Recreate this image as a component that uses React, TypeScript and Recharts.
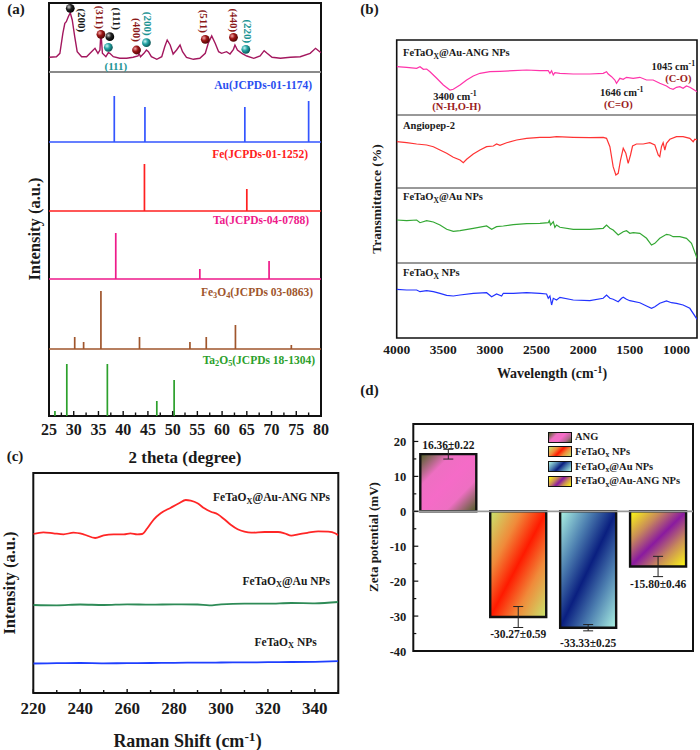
import React from 'react';
import {
  BarChart,
  Bar,
  Cell,
  ErrorBar,
  LabelList,
  ComposedChart,
  Line,
  Scatter,
  XAxis,
  YAxis,
  ReferenceLine,
  ReferenceArea,
} from 'recharts';

const SERIF = '"Liberation Serif", "Times New Roman", serif';

// ---------- (a) XRD ----------
const xrdTheta = [
  25.1, 26.5, 27.2, 27.8, 28.2, 28.5, 28.9, 29.3, 29.7, 30.2, 30.7, 31.6, 32.6, 33.6, 34.3, 34.9,
  35.3, 35.5, 35.8, 36.5, 37.0, 37.3, 38.0, 39.3, 40.7, 42.0, 43.0, 43.2, 43.5, 44.2, 44.7, 45.1,
  45.7, 46.8, 47.8, 48.4, 48.9, 49.5, 50.1, 50.8, 51.5, 52.0, 52.8, 54.2, 55.5, 56.6, 57.2, 57.9,
  58.6, 59.3, 59.9, 60.9, 61.6, 62.3, 62.6, 63.1, 64.0, 65.0, 66.4, 67.7, 68.5, 69.1, 70.1, 71.8,
  73.8, 75.8, 77.8, 78.9, 79.5, 80.0,
];
const xrdCounts = [
  14.7, 15.3, 18.7, 38.7, 48.7, 50.3, 55.3, 59.3, 52, 35.3, 20.3, 15.3, 15.3, 20.3, 23.7, 18.7,
  22, 40.3, 18.7, 15.3, 19.3, 18.7, 15.3, 13.7, 13.7, 14.7, 16, 18.7, 15.3, 18.7, 22, 20.3,
  15.3, 12.7, 15.3, 25.3, 32, 27, 18, 22, 27, 20.3, 14.7, 12.7, 13.7, 18.7, 28.7, 36,
  28.7, 20.3, 18.7, 20.3, 18, 22.7, 27, 22, 18.7, 16, 13.7, 16, 21.3, 18.7, 14.7, 13.7,
  14.7, 15.3, 18.7, 23.7, 21.3, 19.3,
];

// indexed reflections on the sample pattern
const peakTheta = [29.3, 35.5, 37.3, 37.0, 42.7, 44.7, 56.6, 62.3, 64.8];
const peakLevel = [63.7, 37.7, 35.3, 24.7, 22, 29.3, 32.7, 34.7, 22.7];
const peakHkl = ['(200)', '(311)', '(111)', '(111)', '(400)', '(200)', '(511)', '(440)', '(220)'];
const peakPhase = ['Ta', 'Fe3O4', 'Ta', 'Au', 'Fe3O4', 'Au', 'Fe3O4', 'Fe3O4', 'Au'];

// reference cards (stick patterns)
const auTheta = [38.2, 44.4, 64.6, 77.5];
const auInt = [46, 35, 35, 41];
const feTheta = [44.3, 65.0];
const feInt = [47, 22];
const taTheta = [38.5, 55.5, 69.5];
const taInt = [46, 10, 18];
const fe3o4Theta = [30.2, 32.0, 35.5, 43.3, 53.5, 56.8, 62.7, 74.0];
const fe3o4Int = [12, 7, 58, 12, 7, 12, 24, 4];
const ta2o5Theta = [26.2, 28.6, 36.8, 46.8, 50.3];
const ta2o5Int = [5, 52, 52, 15, 36];

const xrdTicks = [
  25, 27.5, 30, 32.5, 35, 37.5, 40, 42.5, 45, 47.5, 50, 52.5, 55, 57.5, 60, 62.5, 65, 67.5, 70,
  72.5, 75, 77.5, 80,
];

// ---------- (b) FTIR ----------
const ftirAngAuWn = [
  4000, 3893, 3786, 3750, 3714, 3679, 3643, 3571, 3500, 3429, 3393, 3321, 3250, 3179, 3107, 3000,
  2893, 2750, 2607, 2464, 2375, 2357, 2339, 2321, 2304, 2250, 2107, 1929, 1786, 1750, 1732, 1696,
  1661, 1643, 1607, 1571, 1536, 1464, 1393, 1321, 1250, 1179, 1107, 1071, 1036, 1000, 964, 929,
  893, 857, 821, 779,
];
const ftirAngAuT = [
  48.3, 47.7, 46.7, 48.3, 45.7, 46, 43.3, 36.7, 30, 25, 25.7, 30, 35, 39, 41.7, 43.3,
  43.7, 44.3, 45, 44.3, 44.3, 41.7, 44.3, 40, 42.3, 41.7, 41, 41, 41.7, 43.3, 41, 38.3,
  35, 31.7, 36.7, 35.7, 37.7, 36.7, 37.7, 35, 35, 31.7, 29, 26.7, 25.7, 27.7, 28.3, 26.7,
  29, 27.7, 25.7, 23.3,
];
const ftirAngWn = [
  4000, 3893, 3786, 3679, 3607, 3536, 3464, 3393, 3321, 3286, 3250, 3179, 3107, 3036, 2964, 2929,
  2893, 2821, 2714, 2607, 2464, 2357, 2286, 2107, 1929, 1786, 1750, 1714, 1679, 1650, 1625, 1600,
  1571, 1543, 1518, 1493, 1471, 1429, 1357, 1286, 1232, 1196, 1179, 1161, 1143, 1125, 1107, 1071,
  1000, 929, 857, 821, 804, 779,
];
const ftirAngT = [
  46.3, 45.3, 44, 43, 41.3, 38, 34.7, 30.7, 28, 25.3, 28.7, 34, 38, 41.3, 42, 44,
  42.7, 45.3, 48, 49.7, 50.7, 50.7, 51.3, 50.7, 50.3, 50.7, 49.7, 41.3, 21.3, 13, 14.7, 28,
  39.7, 34.7, 24.7, 33, 42, 44, 44, 45.3, 43, 33, 31.3, 41.3, 45.3, 38, 44.7, 48.7,
  51.3, 51.3, 49.7, 46.3, 48.7, 48,
];
const ftirAuWn = [
  4000, 3893, 3786, 3750, 3679, 3607, 3536, 3464, 3393, 3321, 3179, 3036, 2982, 2929, 2857, 2750,
  2607, 2464, 2375, 2364, 2350, 2321, 2304, 2286, 2250, 2107, 1929, 1786, 1750, 1714, 1679, 1625,
  1571, 1536, 1500, 1464, 1393, 1321, 1268, 1232, 1179, 1107, 1071, 1036, 964, 893, 839, 779,
];
const ftirAuT = [
  43, 42.3, 43, 40.3, 42.3, 41, 38, 33.7, 31.7, 32.3, 34.7, 37, 33.7, 36.3, 37, 38.3,
  39.3, 39.7, 40.3, 42.3, 38, 41.3, 35.7, 38, 35.7, 33.7, 33.7, 34.7, 38, 34.7, 33, 28,
  31.3, 32.3, 29.7, 30.3, 29.7, 24.7, 18, 19.7, 24.7, 28.7, 28, 26.3, 26.3, 24.7, 19.7, 4.7,
];
const ftirBareWn = [
  4000, 3893, 3786, 3750, 3679, 3607, 3536, 3464, 3393, 3321, 3179, 3036, 2982, 2929, 2875, 2857,
  2750, 2607, 2464, 2393, 2375, 2357, 2339, 2321, 2286, 2250, 2107, 1929, 1786, 1750, 1714, 1679,
  1625, 1589, 1571, 1536, 1500, 1393, 1321, 1268, 1232, 1179, 1107, 1054, 1000, 929, 857, 779,
];
const ftirBareT = [
  48.7, 48, 48, 46.3, 47.3, 46.3, 44.7, 42.7, 42, 43, 44.7, 45.3, 41.3, 44, 42, 44.7,
  44.7, 45.3, 44.7, 44, 39.7, 42, 33, 39.7, 38, 40.7, 38, 37.3, 39.7, 43, 39.7, 38.7,
  36.3, 39.7, 40.7, 38.7, 37.3, 35.3, 32, 29.7, 31.3, 34.7, 37, 35.3, 34.7, 33, 29.7, 18.7,
];
const ftirTicks = [4000, 3500, 3000, 2500, 2000, 1500, 1000];

// ---------- (c) Raman ----------
const ramanShiftAng = [
  220, 224.3, 228.6, 232.9, 237.1, 241.4, 246.4, 250, 254.3, 258.6, 261.4, 264.3, 266.4, 268.6,
  271.4, 274.3, 278.6, 282.1, 285, 287.1, 290, 292.9, 295.7, 298.6, 301.4, 304.3, 307.1, 310,
  312.9, 318.6, 324.3, 327.1, 330, 332.9, 337.1, 341.4, 345.7, 348.6, 350,
];
const ramanAng = [
  159, 160.7, 159.7, 158.7, 160.3, 158.7, 155, 157.7, 158.7, 158.7, 159.7, 158.7, 159, 164.7,
  173.7, 179.7, 185.3, 189.7, 193, 192.3, 189.7, 184.7, 181.3, 178.7, 173.7, 168, 163.7, 161.3,
  160.3, 161, 161, 159.7, 157.3, 158.7, 160.3, 161.7, 161.3, 159.7, 157.7,
];
const ramanShift = [220, 230, 240, 250, 260, 270, 280, 290, 295, 300, 310, 320, 330, 340, 350];
const ramanAu = [88, 87.7, 88.5, 88, 88.7, 88.3, 88.7, 88.5, 87.7, 88.7, 89.3, 89.3, 90, 89.7, 91];
const ramanBare = [29.5, 29.8, 30, 29.7, 29.8, 30, 30.2, 30.3, 30.3, 30.5, 30.6, 30.8, 31, 31.2, 31.8];
const ramanTicks = [220, 230, 240, 250, 260, 270, 280, 290, 300, 310, 320, 330, 340, 350];

// ---------- (d) zeta potential ----------
const zetaGroups = ['ANG', 'FeTaOx NPs', 'FeTaOx@Au NPs', 'FeTaOx@Au-ANG NPs'];
const zetaValue = [16.36, -30.27, -33.33, -15.8];
const zetaSem = [0.22, 0.59, 0.25, 0.46];
const zetaSpread = [1.4, 3.0, 0.9, 2.9];
const zetaTicks = [-40, -35, -30, -25, -20, -15, -10, -5, 0, 5, 10, 15, 20];

// ---------- layout / styling ----------
// strip baselines of the stacked XRD plot (a.u.)
const STRIP = { ta2o5: 0, fe3o4: 67, ta: 137, fe: 205, au: 274, sample: 344, top: 413 };
// strip baselines of the stacked FTIR plot
const FTIR_BASE = { bare: 0, au: 75, ang: 150, angAu: 223, top: 298 };
// px per mV in the zeta panel (plot height / domain span)
const ZETA_PX = 227 / 65;

const phaseTone: Record<string, { text: string; light: string; mid: string; dark: string }> = {
  Ta: { text: '#1a1a1a', light: '#c8c8c8', mid: '#222', dark: '#000' },
  Fe3O4: { text: '#8b1a1a', light: '#f3a5a5', mid: '#9b1515', dark: '#4a0505' },
  Au: { text: '#1c9494', light: '#cdf4f4', mid: '#22a3a3', dark: '#0b5050' },
};
const peakNudge = [
  { dx: 12, dy: 12, rot: 90 },
  { dx: -1, dy: -17, rot: 90 },
  { dx: 7, dy: -18, rot: 90 },
  { dx: 7.5, dy: 19, rot: 0 },
  { dx: 0, dy: -20, rot: 90 },
  { dx: 2, dy: -19, rot: 90 },
  { dx: -1, dy: -18, rot: 90 },
  { dx: 1, dy: -17, rot: 90 },
  { dx: 2, dy: -18, rot: 90 },
];

const zetaFill = [
  ['#4a5f22', '#ee6fc2', '#f56bc7', '#ee6fc2', '#4a5f22'],
  ['#c8e66e', '#f08a3a', '#ff1a00', '#f08a3a', '#c8e66e'],
  ['#aef5e4', '#4d7fb0', '#0a1f80', '#4d7fb0', '#aef5e4'],
  ['#ffff10', '#c88a5a', '#8a1aa0', '#c88a5a', '#ffff10'],
];
const stopAt = [0, 0.28, 0.5, 0.72, 1];

type Pt = { x: number; y: number | null };

// vertical sticks standing on a strip baseline
function stickTrace(theta: number[], height: number[], base: number, withBase: boolean): Pt[] {
  const pts: Pt[] = [];
  if (withBase) pts.push({ x: 25, y: base });
  theta.forEach((t, i) => {
    pts.push({ x: t, y: base }, { x: t, y: base + height[i] });
    pts.push(withBase ? { x: t, y: base } : { x: t, y: null });
  });
  if (withBase) pts.push({ x: 80, y: base });
  return pts;
}

const zip = (xs: number[], ys: number[], shift = 0): Pt[] => xs.map((x, i) => ({ x, y: ys[i] + shift }));

const stickSets = [
  { key: 'au', pts: stickTrace(auTheta, auInt, STRIP.au, true), color: '#3355ff' },
  { key: 'fe', pts: stickTrace(feTheta, feInt, STRIP.fe, true), color: '#ff2020' },
  { key: 'ta', pts: stickTrace(taTheta, taInt, STRIP.ta, true), color: '#ee1a8a' },
  { key: 'fe3o4', pts: stickTrace(fe3o4Theta, fe3o4Int, STRIP.fe3o4, true), color: '#a0562d' },
  { key: 'ta2o5', pts: stickTrace(ta2o5Theta, ta2o5Int, STRIP.ta2o5, false), color: '#2ca02c' },
];
const xrdRows = zip(xrdTheta, xrdCounts, STRIP.sample);
const peakRows = peakTheta.map((x, i) => ({
  x,
  y: STRIP.sample + peakLevel[i],
  hkl: peakHkl[i],
  phase: peakPhase[i],
  i,
}));

const zetaRows = zetaGroups.map((name, i) => ({ name, zeta: zetaValue[i], spread: zetaSpread[i] }));

// ticks drawn inward from the bottom axis, labels on every `every`
function InTick(props: any) {
  const { x, y, payload, every, fontPx, labelGap, majorLen, minorLen } = props;
  const v = Number(payload.value);
  const r = v / every;
  const major = Math.abs(r - Math.round(r)) < 1e-6;
  const len = major ? majorLen : minorLen;
  return (
    <g>
      {len > 0 && <line x1={x} x2={x} y1={y} y2={y - len} stroke="#111" strokeWidth={1.4} />}
      {major && (
        <text
          x={x}
          y={y + labelGap}
          textAnchor="middle"
          fontFamily={SERIF}
          fontWeight={700}
          fontSize={fontPx}
          fill="#1a1a1a"
        >
          {v}
        </text>
      )}
    </g>
  );
}

function ZetaTick(props: any) {
  const { x, y, payload } = props;
  const v = Number(payload.value);
  const major = v % 10 === 0;
  return (
    <g>
      <line x1={x} x2={x + (major ? 5 : 3)} y1={y} y2={y} stroke="#111" strokeWidth={1.2} />
      {major && (
        <text x={x - 7} y={y + 4.5} textAnchor="end" fontFamily={SERIF} fontWeight={700} fontSize={12.5} fill="#1a1a1a">
          {v}
        </text>
      )}
    </g>
  );
}

function PeakMarker(props: any) {
  const { cx, cy, payload } = props;
  if (cx == null || cy == null || !payload) return null;
  const tone = phaseTone[payload.phase];
  const n = peakNudge[payload.i];
  const tx = cx + n.dx;
  const ty = cy + n.dy;
  return (
    <g>
      <circle cx={cx} cy={cy} r={4.4} fill={`url(#ball-${payload.phase})`} />
      <text
        x={tx}
        y={ty}
        textAnchor="middle"
        dominantBaseline="central"
        transform={n.rot ? `rotate(${n.rot} ${tx} ${ty})` : undefined}
        fontFamily={SERIF}
        fontWeight={700}
        fontSize={11}
        fill={tone.text}
      >
        {payload.hkl}
      </text>
    </g>
  );
}

function ZetaValueLabel(props: any) {
  const { x, y, width, height, value } = props;
  const i = zetaValue.indexOf(Number(value));
  if (i < 0) return null;
  const top = Math.min(y, y + height);
  const bottom = Math.max(y, y + height);
  const below = Math.max(15, zetaSpread[i] * ZETA_PX + 7);
  const cy = zetaValue[i] >= 0 ? top - 9 : bottom + below;
  return (
    <text
      x={x + width / 2}
      y={cy + 4}
      textAnchor="middle"
      fontFamily={SERIF}
      fontWeight={700}
      fontSize={11.5}
      fill="#1a1a1a"
    >
      {`${zetaValue[i].toFixed(2)}±${zetaSem[i].toFixed(2)}`}
    </text>
  );
}

type TagProps = {
  x: number;
  y: number;
  size: number;
  color?: string;
  align?: 'left' | 'center' | 'right';
  rotate?: number;
  children: React.ReactNode;
};
function Tag({ x, y, size, color = '#1a1a1a', align = 'center', rotate, children }: TagProps) {
  const shift = align === 'left' ? '0%' : align === 'right' ? '-100%' : '-50%';
  return (
    <div
      style={{
        position: 'absolute',
        left: x,
        top: y,
        transform: `translate(${shift}, -50%)` + (rotate ? ` rotate(${rotate}deg)` : ''),
        fontFamily: SERIF,
        fontWeight: 700,
        fontSize: size,
        color,
        lineHeight: 1,
        whiteSpace: 'nowrap',
      }}
    >
      {children}
    </div>
  );
}
const Sub = ({ children }: { children: React.ReactNode }) => (
  <span style={{ fontSize: '0.72em', position: 'relative', top: '0.3em' }}>{children}</span>
);
const Sup = ({ children }: { children: React.ReactNode }) => (
  <span style={{ fontSize: '0.75em', position: 'relative', top: '-0.45em' }}>{children}</span>
);

function XrdPanel() {
  return (
    <ComposedChart width={340} height={470} margin={{ top: 3, right: 19, bottom: 24, left: 49 }}>
      <defs>
        {Object.keys(phaseTone).map((p) => (
          <radialGradient key={p} id={`ball-${p}`} cx="0.35" cy="0.35" r="0.7">
            <stop offset="0" stopColor={phaseTone[p].light} />
            <stop offset="0.45" stopColor={phaseTone[p].mid} />
            <stop offset="1" stopColor={phaseTone[p].dark} />
          </radialGradient>
        ))}
      </defs>
      <XAxis
        type="number"
        dataKey="x"
        domain={[25, 80]}
        ticks={xrdTicks}
        interval={0}
        height={30}
        tickSize={0}
        tickMargin={0}
        tickLine={false}
        axisLine={false}
        allowDataOverflow
        tick={<InTick every={5} fontPx={16} labelGap={19} majorLen={5} minorLen={3.5} />}
      />
      <YAxis type="number" dataKey="y" domain={[0, STRIP.top]} hide allowDataOverflow />
      <ReferenceLine y={STRIP.sample} stroke="#8a8a8a" strokeWidth={2} />
      {stickSets.map((s) => (
        <Line
          key={s.key}
          data={s.pts}
          dataKey="y"
          type="linear"
          stroke={s.color}
          strokeWidth={1.7}
          dot={false}
          activeDot={false}
          connectNulls={false}
          isAnimationActive={false}
        />
      ))}
      <Line
        data={xrdRows}
        dataKey="y"
        type="linear"
        stroke="#a3175e"
        strokeWidth={1.4}
        dot={false}
        activeDot={false}
        isAnimationActive={false}
      />
      <Scatter data={peakRows} dataKey="y" shape={(p: any) => <PeakMarker {...p} />} isAnimationActive={false} />
      <ReferenceArea x1={25} x2={80} y1={0} y2={STRIP.top} fill="none" stroke="#111" strokeWidth={2} />
    </ComposedChart>
  );
}

function FtirPanel() {
  const traces = [
    { key: 'angAu', pts: zip(ftirAngAuWn, ftirAngAuT, FTIR_BASE.angAu), color: '#ff33aa' },
    { key: 'ang', pts: zip(ftirAngWn, ftirAngT, FTIR_BASE.ang), color: '#ff3333' },
    { key: 'au', pts: zip(ftirAuWn, ftirAuT, FTIR_BASE.au), color: '#34a834' },
    { key: 'bare', pts: zip(ftirBareWn, ftirBareT, FTIR_BASE.bare), color: '#2233ff' },
  ];
  return (
    <ComposedChart width={360} height={400} margin={{ top: 40, right: 3, bottom: 32, left: 56.7 }}>
      <XAxis
        type="number"
        dataKey="x"
        domain={[780, 4000]}
        reversed
        ticks={ftirTicks}
        interval={0}
        height={30}
        tickSize={0}
        tickMargin={0}
        tickLine={false}
        axisLine={false}
        allowDataOverflow
        tick={<InTick every={500} fontPx={13.5} labelGap={15.5} majorLen={0} minorLen={0} />}
      />
      <YAxis type="number" dataKey="y" domain={[0, FTIR_BASE.top]} hide allowDataOverflow />
      {[FTIR_BASE.au, FTIR_BASE.ang, FTIR_BASE.angAu].map((b) => (
        <ReferenceLine key={b} y={b} stroke="#333" strokeWidth={1} />
      ))}
      {traces.map((t) => (
        <Line
          key={t.key}
          data={t.pts}
          dataKey="y"
          type="linear"
          stroke={t.color}
          strokeWidth={1.2}
          dot={false}
          activeDot={false}
          isAnimationActive={false}
        />
      ))}
      <ReferenceArea x1={780} x2={4000} y1={0} y2={FTIR_BASE.top} fill="none" stroke="#111" strokeWidth={1.6} />
    </ComposedChart>
  );
}

function RamanPanel() {
  const traces = [
    { key: 'ang', pts: zip(ramanShiftAng, ramanAng), color: '#ff2626' },
    { key: 'au', pts: zip(ramanShift, ramanAu), color: '#2e8b57' },
    { key: 'bare', pts: zip(ramanShift, ramanBare), color: '#1f3fff' },
  ];
  return (
    <ComposedChart width={350} height={310} margin={{ top: 33, right: 11.7, bottom: 27, left: 33.3 }}>
      <XAxis
        type="number"
        dataKey="x"
        domain={[220, 350]}
        ticks={ramanTicks}
        interval={0}
        height={30}
        tickSize={0}
        tickMargin={0}
        tickLine={false}
        axisLine={false}
        allowDataOverflow
        tick={<InTick every={20} fontPx={17} labelGap={20.5} majorLen={4} minorLen={3} />}
      />
      <YAxis type="number" dataKey="y" domain={[0, 220]} hide allowDataOverflow />
      {traces.map((t) => (
        <Line
          key={t.key}
          data={t.pts}
          dataKey="y"
          type="monotone"
          stroke={t.color}
          strokeWidth={1.8}
          dot={false}
          activeDot={false}
          isAnimationActive={false}
        />
      ))}
      <ReferenceArea x1={220} x2={350} y1={0} y2={220} fill="none" stroke="#111" strokeWidth={2} />
    </ComposedChart>
  );
}

function ZetaPanel() {
  return (
    <BarChart width={350} height={250} data={zetaRows} margin={{ top: 4, right: 7, bottom: 19, left: 23.3 }}>
      <defs>
        {zetaFill.map((cols, i) => (
          <linearGradient key={i} id={`zeta-${i}`} x1="0" y1="0" x2="1" y2="1">
            {cols.map((c, k) => (
              <stop key={k} offset={stopAt[k]} stopColor={c} />
            ))}
          </linearGradient>
        ))}
      </defs>
      <XAxis dataKey="name" hide />
      <YAxis
        type="number"
        domain={[-40, 25]}
        ticks={zetaTicks}
        interval={0}
        width={40}
        tickSize={0}
        tickMargin={0}
        tickLine={false}
        axisLine={false}
        allowDataOverflow
        tick={<ZetaTick />}
      />
      <ReferenceLine y={0} stroke="#9a9a9a" strokeWidth={1.8} />
      <Bar dataKey="zeta" barSize={56} stroke="#111" strokeWidth={2.4} isAnimationActive={false}>
        {zetaRows.map((r, i) => (
          <Cell key={r.name} fill={`url(#zeta-${i})`} />
        ))}
        <ErrorBar dataKey="spread" width={5} stroke="#222" strokeWidth={1} />
        <LabelList dataKey="zeta" content={(p: any) => <ZetaValueLabel {...p} />} />
      </Bar>
      <ReferenceArea y1={-40} y2={25} fill="none" stroke="#111" strokeWidth={2} />
    </BarChart>
  );
}

const legendSwatch = [
  'linear-gradient(135deg, #4a5f22 0%, #ee6fc2 30%, #f56bc7 55%, #b0688e 80%, #4a5f22 100%)',
  'linear-gradient(135deg, #c8e66e 0%, #f08a3a 30%, #ff1a00 50%, #f08a3a 70%, #c8e66e 100%)',
  'linear-gradient(135deg, #aef5e4 0%, #4d7fb0 30%, #0a1f80 50%, #4d7fb0 70%, #aef5e4 100%)',
  'linear-gradient(135deg, #ffff10 0%, #c88a5a 30%, #8a1aa0 50%, #c88a5a 70%, #ffff10 100%)',
];
const legendText: React.ReactNode[] = [
  'ANG',
  <>FeTaO<Sub>x</Sub> NPs</>,
  <>FeTaO<Sub>x</Sub>@Au NPs</>,
  <>FeTaO<Sub>x</Sub>@Au-ANG NPs</>,
];

export default function App() {
  const dark = '#9b1c1c';
  return (
    <div
      style={{
        position: 'absolute',
        left: 0,
        top: 0,
        width: 700,
        height: 750,
        background: '#fff',
        overflow: 'hidden',
      }}
    >
      <div style={{ position: 'absolute', left: 0, top: 0 }}>
        <XrdPanel />
      </div>
      <div style={{ position: 'absolute', left: 340, top: 0 }}>
        <FtirPanel />
      </div>
      <div style={{ position: 'absolute', left: 0, top: 440 }}>
        <RamanPanel />
      </div>
      <div style={{ position: 'absolute', left: 350, top: 420 }}>
        <ZetaPanel />
      </div>

      {/* panel letters */}
      <Tag x={16} y={8.5} size={15}>(a)</Tag>
      <Tag x={369.5} y={8.5} size={15}>(b)</Tag>
      <Tag x={15} y={456} size={15}>(c)</Tag>
      <Tag x={369.5} y={390} size={15}>(d)</Tag>

      {/* (a) */}
      <Tag x={35} y={229} size={16.5} rotate={-90}>Intensity (a.u.)</Tag>
      <Tag x={185} y={457} size={17}>2 theta (degree)</Tag>
      <Tag x={312} y={86} size={11.5} align="right" color="#2a4ff0">Au(JCPDs-01-1174)</Tag>
      <Tag x={308} y={155} size={11.5} align="right" color="#ff2020">Fe(JCPDs-01-1252)</Tag>
      <Tag x={309} y={221} size={11.5} align="right" color="#ee1a8a">Ta(JCPDs-04-0788)</Tag>
      <Tag x={313} y={293} size={11.5} align="right" color="#a0562d">
        Fe<Sub>3</Sub>O<Sub>4</Sub>(JCPDs 03-0863)
      </Tag>
      <Tag x={315} y={360.5} size={11.5} align="right" color="#2ca02c">
        Ta<Sub>2</Sub>O<Sub>5</Sub>(JCPDs 18-1304)
      </Tag>

      {/* (b) */}
      <Tag x={377} y={199} size={13.5} rotate={-90}>Transmittance (%)</Tag>
      <Tag x={552} y={374} size={14}>
        Wavelength (cm<Sup>-1</Sup>)
      </Tag>
      <Tag x={403} y={53.3} size={10.5} align="left">
        FeTaO<Sub>X</Sub>@Au-ANG NPs
      </Tag>
      <Tag x={403} y={126} size={10.5} align="left">Angiopep-2</Tag>
      <Tag x={403} y={197.3} size={10.5} align="left">
        FeTaO<Sub>X</Sub>@Au NPs
      </Tag>
      <Tag x={403} y={273.3} size={10.5} align="left">
        FeTaO<Sub>X</Sub> NPs
      </Tag>
      <Tag x={455} y={96.7} size={10.5}>
        3400 cm<Sup>-1</Sup>
      </Tag>
      <Tag x={456.7} y={106.7} size={10.5} color={dark}>(N-H,O-H)</Tag>
      <Tag x={621.7} y={92.7} size={10.5}>
        1646 cm<Sup>-1</Sup>
      </Tag>
      <Tag x={618.3} y={105} size={10.5} color={dark}>(C=O)</Tag>
      <Tag x={673.3} y={66.7} size={10.5}>
        1045 cm<Sup>-1</Sup>
      </Tag>
      <Tag x={678.3} y={79.3} size={10.5} color={dark}>(C-O)</Tag>

      {/* (c) */}
      <Tag x={10} y={583} size={16.5} rotate={-90}>Intensity (a.u.)</Tag>
      <Tag x={187.5} y={741} size={18}>
        Raman Shift (cm<Sup>-1</Sup>)
      </Tag>
      <Tag x={330} y={498.3} size={11.5} align="right">
        FeTaO<Sub>X</Sub>@Au-ANG NPs
      </Tag>
      <Tag x={330} y={581.7} size={11.5} align="right">
        FeTaO<Sub>X</Sub>@Au NPs
      </Tag>
      <Tag x={316.7} y={642.7} size={11.5} align="right">
        FeTaO<Sub>X</Sub> NPs
      </Tag>

      {/* (d) */}
      <Tag x={373.3} y={537} size={13} rotate={-90}>Zeta potential (mV)</Tag>
      {legendSwatch.map((bg, i) => {
        const cy = 437 + i * 14.8;
        return (
          <React.Fragment key={i}>
            <div
              style={{
                position: 'absolute',
                left: 548,
                top: cy - 5.5,
                width: 24,
                height: 11,
                boxSizing: 'border-box',
                border: '1.6px solid #111',
                background: bg,
              }}
            />
            <Tag x={575} y={cy} size={10.5} align="left">
              {legendText[i]}
            </Tag>
          </React.Fragment>
        );
      })}
    </div>
  );
}
